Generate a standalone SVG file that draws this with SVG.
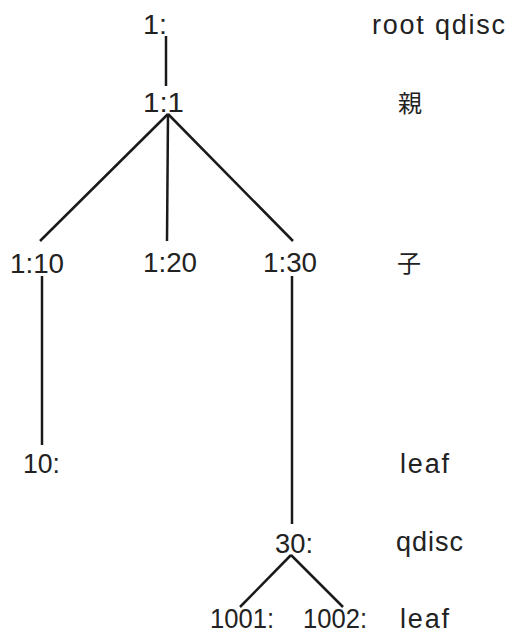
<svg xmlns="http://www.w3.org/2000/svg" width="505" height="634" viewBox="0 0 505 634">
<style>
.t{font-family:"Liberation Sans","Noto Sans CJK JP",sans-serif;font-size:27px;fill:#222}
.j{font-family:"Noto Sans CJK JP",sans-serif;font-size:24px;fill:#222}
.e{stroke:#1a1a1a;stroke-width:2.5;fill:none}
</style>
<rect width="505" height="634" fill="#fff"/>
<g id="connectors">
<line class="e" x1="166" y1="36" x2="166" y2="86"/>
<line class="e" x1="168" y1="114" x2="40" y2="241"/>
<line class="e" x1="168" y1="114" x2="167" y2="241"/>
<line class="e" x1="168" y1="114" x2="293" y2="241"/>
<line class="e" x1="42" y1="276" x2="42" y2="445"/>
<line class="e" x1="292" y1="276" x2="292" y2="524"/>
<line class="e" x1="291" y1="555" x2="240" y2="607"/>
<line class="e" x1="291" y1="555" x2="343" y2="607"/>
</g>
<g id="n-root"><text class="t" x="143" y="34" textLength="24" lengthAdjust="spacingAndGlyphs">1:</text></g>
<g id="n-1-1"><text class="t" x="143" y="112" textLength="41" lengthAdjust="spacingAndGlyphs">1:1</text></g>
<g id="n-1-10"><text class="t" x="10" y="273" textLength="54" lengthAdjust="spacingAndGlyphs">1:10</text></g>
<g id="n-1-20"><text class="t" x="143" y="272" textLength="54" lengthAdjust="spacingAndGlyphs">1:20</text></g>
<g id="n-1-30"><text class="t" x="263" y="272" textLength="54" lengthAdjust="spacingAndGlyphs">1:30</text></g>
<g id="n-10"><text class="t" x="23" y="473" textLength="37" lengthAdjust="spacingAndGlyphs">10:</text></g>
<g id="n-30"><text class="t" x="275" y="553" textLength="38" lengthAdjust="spacingAndGlyphs">30:</text></g>
<g id="n-1001"><text class="t" x="210" y="628" textLength="64" lengthAdjust="spacingAndGlyphs">1001:</text></g>
<g id="n-1002"><text class="t" x="303" y="628" textLength="64" lengthAdjust="spacingAndGlyphs">1002:</text></g>
<g id="labels">
<text class="t" x="372" y="34" textLength="133" lengthAdjust="spacing">root qdisc</text>
<text class="j" x="398" y="112">親</text>
<text class="j" x="397" y="272">子</text>
<text class="t" x="400" y="473" textLength="49" lengthAdjust="spacing">leaf</text>
<text class="t" x="396" y="551" textLength="67" lengthAdjust="spacing">qdisc</text>
<text class="t" x="400" y="628" textLength="49" lengthAdjust="spacing">leaf</text>
</g>
</svg>
